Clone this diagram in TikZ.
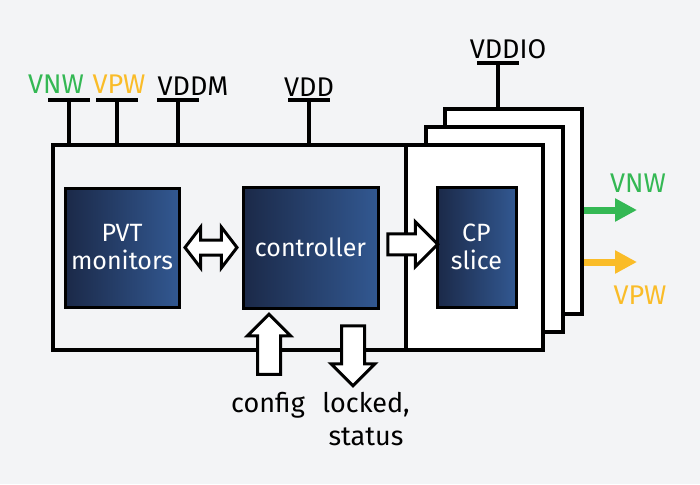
\documentclass[tikz,border=0pt]{standalone}
\usepackage{fontspec}
\setmainfont{Fira Sans}
\usepackage{tikz}
\usetikzlibrary{positioning}
\usetikzlibrary{calc}
\usetikzlibrary{shapes.arrows}
\usetikzlibrary{arrows.meta}
\definecolor{bgcol}{RGB}{243,244,246}
\definecolor{blkdark}{RGB}{27,41,72}
\definecolor{blklight}{RGB}{50,88,145}
\definecolor{vnwgreen}{RGB}{52,184,84}
\definecolor{vpwyellow}{RGB}{250,188,40}

\begin{document}
\begin{tikzpicture}
	[x=1pt,y=-1pt,
	 every node/.style={font=\fontsize{25}{28}\selectfont},
	 block/.style={draw=black, line width=3pt, left color=blkdark, right color=blklight, text=white, align=center, inner sep=0pt},
	 panel/.style={draw=black, line width=4pt, fill=white, minimum width=137pt, minimum height=205pt},
	 pin/.style={line width=4pt},
	 supply/.style={font=\fontsize{27}{30}\selectfont},
	 hollow/.style={draw=black, line width=3pt, fill=white, inner xsep=0pt},
	 outarrow/.style={line width=7pt, -{Triangle[length=22pt,width=22pt]}}]
	\fill[bgcol] (0,0) rectangle (700,484);

	% CP slices, stacked
	\node[panel] (cpc) at (513.5,211) {};
	\node[panel] (cpb) at (494,229.5) {};
	\node[draw=black, line width=4pt, fill=bgcol, minimum width=354pt, minimum height=205pt] (chip) at (230,247.5) {};
	\node[panel] (cpa) at (474.5,247.5) {};

	% blocks
	\node[block, minimum width=114pt, minimum height=119pt] (pvt) at (122,247.5) {PVT\\monitors};
	\node[block, minimum width=135pt, minimum height=121pt] (ctrl) at (310.5,247.5) {controller};
	\node[block, minimum width=79pt, minimum height=120pt] (cp) at (476.5,247) {CP\\slice};

	% hollow arrows
	\node[hollow, double arrow, inner ysep=6pt, minimum height=52pt, double arrow head extend=13pt, double arrow tip angle=105] (link) at ($(pvt.east)!0.5!(ctrl.west)$) {};
	\node[hollow, single arrow, inner ysep=9pt, minimum height=50pt, single arrow head extend=12pt] (go) at ($(ctrl.east)!0.5!(cp.west)+(0,-3)$) {};
	\node[hollow, single arrow, inner ysep=10pt, minimum height=60pt, single arrow head extend=10pt, rotate=90] (cfgin) at (269,350) {};
	\node[hollow, single arrow, inner ysep=10pt, minimum height=60pt, single arrow head extend=10.5pt, rotate=-90] (lckout) at (353,350) {};
	\node[anchor=base, font=\fontsize{27}{33}\selectfont] (cfg) at (268,412) {config};
	\node[anchor=base, align=center, font=\fontsize{27}{33}\selectfont] (lck) at (366,445) {locked,\\status};

	% supply pins
	\node[supply, text=vnwgreen] (lvnw) at (56,84) {VNW};
	\node[supply, text=vpwyellow] (lvpw) at (119,84) {VPW};
	\node[supply] (lvddm) at (193,86) {VDDM};
	\node[supply] (lvdd) at (309,87) {VDD};
	\node[supply] (lvddio) at (508,49) {VDDIO};
	\coordinate (pvnw) at (69,100);
	\coordinate (pvpw) at (117,100);
	\coordinate (pvddm) at (178,100);
	\coordinate (pvdd) at (309,100);
	\coordinate (pvddio) at (498,63);
	\draw[pin] ($(pvnw)+(-21,0)$) -- ($(pvnw)+(21,0)$);
	\draw[pin] (pvnw) -- (pvnw |- chip.north);
	\draw[pin] ($(pvpw)+(-21,0)$) -- ($(pvpw)+(21,0)$);
	\draw[pin] (pvpw) -- (pvpw |- chip.north);
	\draw[pin] ($(pvddm)+(-21,0)$) -- ($(pvddm)+(21,0)$);
	\draw[pin] (pvddm) -- (pvddm |- chip.north);
	\draw[pin] ($(pvdd)+(-21,0)$) -- ($(pvdd)+(21,0)$);
	\draw[pin] (pvdd) -- (pvdd |- chip.north);
	\draw[pin] ($(pvddio)+(-21,0)$) -- ($(pvddio)+(21,0)$);
	\draw[pin] (pvddio) -- (pvddio |- cpc.north);

	% outputs
	\coordinate (ovnw) at (637,210);
	\coordinate (ovpw) at (637,262);
	\draw[outarrow, vnwgreen] (ovnw -| cpc.east) -- (ovnw);
	\draw[outarrow, vpwyellow] (ovpw -| cpc.east) -- (ovpw);
	\node[supply, text=vnwgreen] (rvnw) at (638,183) {VNW};
	\node[supply, text=vpwyellow] (rvpw) at (640,295) {VPW};
\end{tikzpicture}
\end{document}
